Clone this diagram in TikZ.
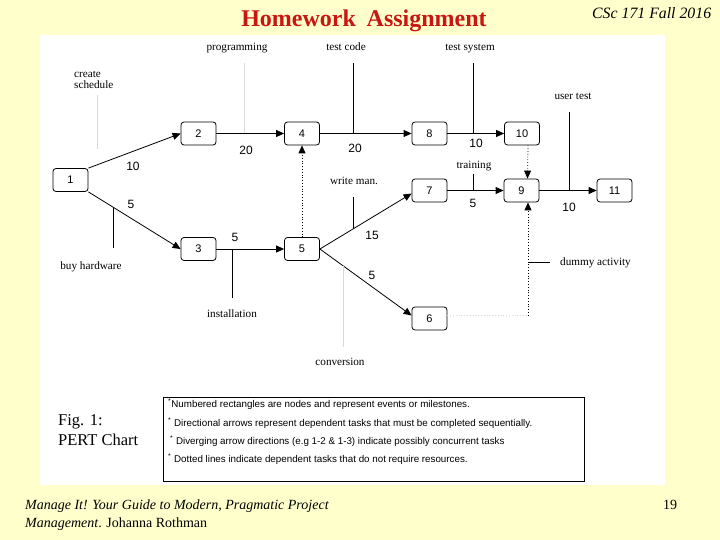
\documentclass[tikz,border=0pt]{standalone}
\usepackage{fontspec}
\setmainfont{Liberation Serif}
\setsansfont{Liberation Sans}
\usetikzlibrary{arrows.meta, positioning, calc}
\definecolor{slidebg}{RGB}{255,255,204}
\definecolor{titlered}{RGB}{200,22,18}

\begin{document}
\begin{tikzpicture}[x=1pt, y=-1pt,
    evt/.style={draw, rounded corners=3pt, minimum width=35pt, minimum height=23pt,
                inner sep=0pt, line width=0.8pt, font=\sffamily\fontsize{11}{12}\selectfont},
    arr/.style={-{Triangle[length=8pt,width=7pt]}, line width=0.8pt},
    dotarr/.style={arr, dotted},
    lbl/.style={font=\fontsize{11.2}{13}\selectfont, text height=8pt, text depth=2pt, inner sep=0pt},
    num/.style={font=\sffamily\fontsize{12}{14}\selectfont, inner sep=0pt},
    hint/.style={line width=0.8pt, shorten >=10pt},
    faint/.style={draw=black!15, line width=0.8pt},
    note/.style={font=\sffamily\fontsize{9.8}{11}\selectfont, anchor=west, inner sep=0pt}
]
  \useasboundingbox (0,0) rectangle (720,540);
  % Slide and panel
  \fill[slidebg] (0,0) rectangle (720,540);
  \fill[white] (40,35) rectangle (665,485);

  % Header and footer
  \node[anchor=base, text=titlered, font=\bfseries\fontsize{24}{28}\selectfont] (title) at (364,27) {Homework\hspace{0.45em}Assignment};
  \node[anchor=base west, font=\itshape\fontsize{15.8}{18}\selectfont, inner sep=0pt] (course) at (592,19) {CSc 171 Fall 2016};
  \node[anchor=base west, font=\fontsize{14}{17}\selectfont, inner sep=0pt] (src1) at (25,509) {\itshape Manage It! Your Guide to Modern, Pragmatic Project};
  \node[anchor=base west, font=\fontsize{14}{17}\selectfont, inner sep=0pt] (src2) at (25,527) {\textit{Management}. Johanna Rothman};
  \node[anchor=base, font=\fontsize{14}{17}\selectfont, inner sep=0pt] (page) at (670,509) {19};

  % Events
  \node[evt] (n1) at (70.5,180) {1\hspace{4pt}};
  \node[evt] (n2) at (198.5,133.5) {2\hspace{8pt}};
  \node[evt] (n4) at (302,133.5) {4\hspace{7pt}};
  \node[evt] (n8) at (429.5,133.5) {8\hspace{7pt}};
  \node[evt] (n10) at (522,133.5) {10\hspace{3pt}};
  \node[evt] (n7) at (429.5,190.5) {7\hspace{7pt}};
  \node[evt] (n9) at (521.5,190.5) {9\hspace{8pt}};
  \node[evt] (n11) at (614.5,190.5) {11\hspace{5pt}};
  \node[evt] (n3) at (198.5,249) {3\hspace{8pt}};
  \node[evt] (n5) at (302,249) {5\hspace{7pt}};
  \node[evt] (n6) at (429.5,318.5) {6\hspace{7pt}};

  % Activities
  \draw[arr] (n1.north east) -- (n2.west);
  \draw[arr] (n1.south east) -- coordinate[pos=0.27] (hw) (n3.west);
  \draw[arr] (n2) -- coordinate[pos=0.41] (pg) (n4);
  \draw[arr] (n4) -- coordinate[pos=0.366] (tc) (n8);
  \draw[arr] (n8) -- coordinate[pos=0.456] (ts) (n10);
  \draw[arr] (n3) -- coordinate[pos=0.235] (in) (n5);
  \draw[arr] (n5.east) -- coordinate[pos=0.366] (wm) ([yshift=-3pt]n7.west);
  \draw[arr] (n5.east) -- coordinate[pos=0.26] (cv) ([yshift=3pt]n6.west);
  \draw[arr] (n7) -- coordinate[pos=0.456] (tr) (n9);
  \draw[arr] (n9) -- coordinate[pos=0.517] (ut) (n11);

  % Dummy activities
  \draw[dotarr] (n5) -- (n4);
  \draw[dotarr] ([xshift=6pt]n10.south) -- ([xshift=6pt]n9.north);
  \coordinate (dm) at ($(n9.south |- n6.east)+(6.5,-3)$);
  \draw[faint, dotted] ([yshift=3pt]n6.east) -- (dm);
  \draw[dotarr] (dm) -- ($(n9.south)+(6.5,0)$);

  % Durations
  \node[num] (d12) at (133,166) {10};
  \node[num] (d13) at (131,204) {5};
  \node[num] (d24) at (246,150) {20};
  \node[num] (d48) at (355,148) {20};
  \node[num] (d810) at (476,143) {10};
  \node[num] (d79) at (473,203) {5};
  \node[num] (d911) at (569,207) {10};
  \node[num] (d35) at (235,237) {5};
  \node[num] (d57) at (372,235) {15};
  \node[num] (d56) at (372,275) {5};

  % Task labels
  \node[lbl, anchor=west, align=left, text height=, text depth=] (lsched) at (74,80) {create\\[-2pt]schedule};
  \node[lbl] (lprog) at (237,48) {programming};
  \node[lbl] (lcode) at (346,48) {test code};
  \node[lbl] (lsys) at (470,48) {test system};
  \node[lbl] (luser) at (573,97) {user test};
  \node[lbl] (ltrain) at (474,166) {training};
  \node[lbl] (lwrite) at (354,182) {write man.};
  \node[lbl] (lbuy) at (91,266) {buy hardware};
  \node[lbl] (linst) at (232,314) {installation};
  \node[lbl] (lconv) at (340,362) {conversion};
  \node[lbl, anchor=west] (ldum) at (560,262) {dummy activity};

  \draw[faint] ($(lsched.south)+(4,6)$) -- ++(0,54);
  \draw[faint, hint] (pg) -- (pg |- lprog.south);
  \draw[hint] (tc) -- (tc |- lcode.south);
  \draw[hint] (ts) -- (ts |- lsys.south);
  \draw[hint] (ut) -- (ut |- luser.south);
  \draw[hint, shorten >=3pt] (tr) -- (tr |- ltrain.south);
  \draw[hint] (wm) -- (wm |- lwrite.south);
  \draw[hint, shorten >=13pt] (hw) -- (hw |- lbuy.north);
  \draw[hint, shorten >=11pt] (in) -- (in |- linst.north);
  \draw[faint, hint] (cv) -- (cv |- lconv.north);
  \draw[hint] (dm |- ldum.west) -- (ldum.west);

  % Caption and notes
  \node[anchor=west, font=\fontsize{16.5}{18}\selectfont, inner sep=0pt] (fig) at (58,422) {Fig. 1:};
  \node[anchor=west, font=\fontsize{16.5}{18}\selectfont, inner sep=0pt] (figname) at (58,440) {PERT Chart};
  \node[draw, line width=0.8pt, minimum width=421pt, minimum height=84pt, anchor=north west, inner sep=0pt] (legend) at (163,397) {};
  \node[note] (note1) at (168,404) {\textsuperscript{*}Numbered rectangles are nodes and represent events or milestones.};
  \node[note] (note2) at (168,423) {\textsuperscript{*} Directional arrows represent dependent tasks that must be completed sequentially.};
  \node[note] (note3) at (170,441) {\textsuperscript{*} Diverging arrow directions (e.g 1-2 \& 1-3) indicate possibly concurrent tasks};
  \node[note] (note4) at (168,459) {\textsuperscript{*} Dotted lines indicate dependent tasks that do not require resources.};
\end{tikzpicture}
\end{document}
